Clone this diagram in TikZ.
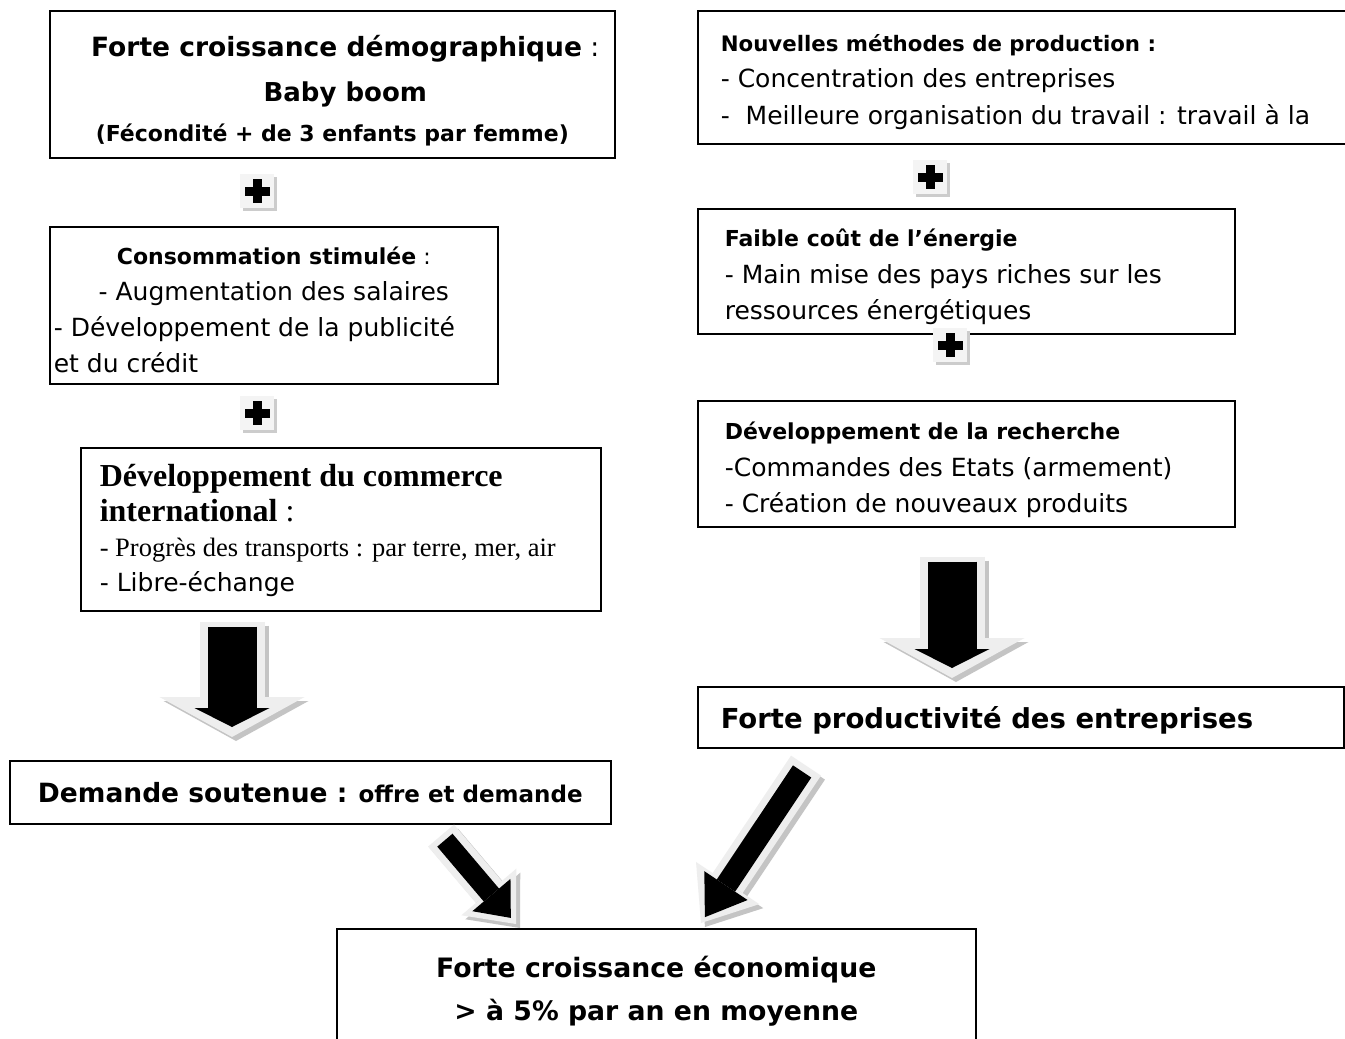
\documentclass[tikz,border=0pt]{standalone}
\usepackage{fontspec}
\setmainfont{DejaVu Sans}
\newfontfamily\tnr{Liberation Serif}
\usetikzlibrary{arrows.meta,calc,shadows}
\newcommand{\fsz}[2]{\fontsize{#1}{#2}\selectfont}
\newcommand{\natsp}{\spaceskip=0pt\xspaceskip=0pt\relax}
\definecolor{outlinegray}{HTML}{EEEEEE}
\definecolor{shadowgray}{HTML}{C4C4C4}
\begin{document}
\begin{tikzpicture}[x=1pt,y=-1pt,
  box/.style={draw=black, line width=1.6pt, inner ysep=0pt, anchor=north west, fill=white},
  plusicon/.style={minimum size=34pt, inner sep=0pt, fill=gray!9,
    drop shadow={shadow xshift=2.5pt, shadow yshift=-2.5pt, fill=gray!40, opacity=1},
    path picture={
      \fill[black] ([shift={(-12.5pt,-4.5pt)}]path picture bounding box.center) rectangle ([shift={(12.5pt,4.5pt)}]path picture bounding box.center);
      \fill[black] ([shift={(-4.5pt,-12pt)}]path picture bounding box.center) rectangle ([shift={(4.5pt,12pt)}]path picture bounding box.center);}},
  arrshadow/.style n args={3}{draw=shadowgray, line width=#1, -{Triangle[width=#2,length=#3,line width=0pt]}, transform canvas={shift={(4pt,-4pt)}}},
  arrouter/.style n args={3}{draw=outlinegray, line width=#1, -{Triangle[width=#2,length=#3,line width=0pt]}},
  arrinner/.style n args={3}{draw=black, line width=#1, -{Triangle[width=#2,length=#3,line width=0pt]}}
]
\path[use as bounding box, fill=white] (0,0) rectangle (1345,1039);
\clip (0,0) rectangle (1345,1039);

% ---------- left column ----------
\node[box, minimum width=565pt, minimum height=147pt, align=center, font=\fsz{25}{40}] (A) at (49,10)
  {\rule{0pt}{33pt}\hspace*{26pt}{\fsz{26.5}{40}\textbf{Forte croissance démographique} :}\\[5pt]
   \hspace*{26pt}{\fsz{26}{40}\textbf{Baby boom}}\\
   {\fsz{22}{40}\textbf{(Fécondité + de 3 enfants par femme)}}};

\node[plusicon] (p1) at (257,191) {};

\node[box, minimum width=448pt, minimum height=157pt, text width=440pt, inner xsep=4pt, align=left, font=\fsz{25}{36}] (B) at (49,226)
  {\natsp\rule{0pt}{27pt}\makebox[440pt]{\fsz{22}{36}\textbf{Consommation stimulée} :}\\
   \makebox[440pt]{- Augmentation des salaires}\\
   - Développement de la publicité\\
   et du crédit};

\node[plusicon] (p2) at (257,413) {};

\node[box, minimum width=520pt, minimum height=163pt, text width=482pt, inner xsep=19pt, align=left, font=\tnr\fsz{32}{35}] (C) at (80,447)
  {\natsp\rule{0pt}{25pt}\textbf{Développement du commerce}\\
   \textbf{international} :\\
   {\fsz{26.5}{35}- Progrès des transports : par terre, mer, air}\\
   {\normalfont\fsz{25}{35}- Libre-échange}};

\node[box, minimum width=601pt, minimum height=63pt, align=center, font=\fsz{26.5}{30}] (D) at (9,760)
  {\textbf{Demande soutenue :} {\fsz{23}{30}\textbf{offre et demande}}};

% ---------- right column ----------
\node[box, minimum width=660pt, minimum height=133pt, text width=614pt, inner xsep=23pt, align=left, font=\fsz{25}{36.5}] (E) at (697,10)
  {\natsp\rule{0pt}{26pt}{\fsz{21.3}{36.5}\textbf{Nouvelles méthodes de production :}}\\
   - Concentration des entreprises\\
   -~ Meilleure organisation du travail : travail à la};

\node[plusicon] (p3) at (930,177) {};

\node[box, minimum width=537pt, minimum height=125pt, text width=483pt, inner xsep=27pt, align=left, font=\fsz{25}{36.5}] (F) at (697,208)
  {\natsp\rule{0pt}{29pt}{\fsz{22}{36.5}\textbf{Faible coût de l’énergie}}\\
   - Main mise des pays riches sur les\\
   ressources énergétiques};

\node[plusicon] (p4) at (950,345) {};

\node[box, minimum width=537pt, minimum height=126pt, text width=483pt, inner xsep=27pt, align=left, font=\fsz{25}{36.5}] (G) at (697,400)
  {\natsp\rule{0pt}{30pt}{\fsz{22}{36.5}\textbf{Développement de la recherche}}\\
   -Commandes des Etats (armement)\\
   - Création de nouveaux produits};

\node[box, minimum width=646pt, minimum height=61pt, text width=600pt, inner xsep=23pt, align=left, font=\fsz{27.5}{30}] (H) at (697,686)
  {\natsp\rule{0pt}{28pt}\textbf{Forte productivité des entreprises}};

% ---------- bottom ----------
\node[box, minimum width=639pt, minimum height=124pt, align=center, font=\fsz{26.7}{43}] (I) at (336,928)
  {\textbf{Forte croissance économique}\\
   \textbf{> à 5\% par an en moyenne}};

% ---------- connectors (fat 3D arrows) ----------
\coordinate (dl1) at ($(C.south west)+(152,10)$);
\coordinate (dl2) at ($(D.north west)+(223,-23)$);
\draw[arrshadow={65pt}{145pt}{40pt}] (dl1) -- (dl2);
\draw[arrouter={65pt}{145pt}{40pt}] (dl1) -- (dl2);
\draw[arrinner={49pt}{75pt}{19pt}, shorten <=5pt, shorten >=10pt] (dl1) -- (dl2);

\coordinate (dr1) at ($(G.south west)+(255,29)$);
\coordinate (dr2) at ($(H.north west)+(255,-8)$);
\draw[arrshadow={65pt}{145pt}{40pt}] (dr1) -- (dr2);
\draw[arrouter={65pt}{145pt}{40pt}] (dr1) -- (dr2);
\draw[arrinner={49pt}{75pt}{19pt}, shorten <=5pt, shorten >=10pt] (dr1) -- (dr2);

\coordinate (gl1) at ($(D.south west)+(432,11)$);
\coordinate (gl2) at ($(I.north west)+(180,-4)$);
\draw[arrshadow={34pt}{72pt}{42pt}] (gl1) -- (gl2);
\draw[arrouter={34pt}{72pt}{42pt}] (gl1) -- (gl2);
\draw[arrinner={20pt}{50pt}{30pt}, shorten <=6pt, shorten >=8pt] (gl1) -- (gl2);

\coordinate (gr1) at ($(H.south west)+(109,17)$);
\coordinate (gr2) at ($(I.north west)+(365,-5)$);
\draw[arrshadow={36pt}{76pt}{48pt}] (gr1) -- (gr2);
\draw[arrouter={36pt}{76pt}{48pt}] (gr1) -- (gr2);
\draw[arrinner={22pt}{52pt}{38pt}, shorten <=7pt, shorten >=7pt] (gr1) -- (gr2);
\end{tikzpicture}
\end{document}
